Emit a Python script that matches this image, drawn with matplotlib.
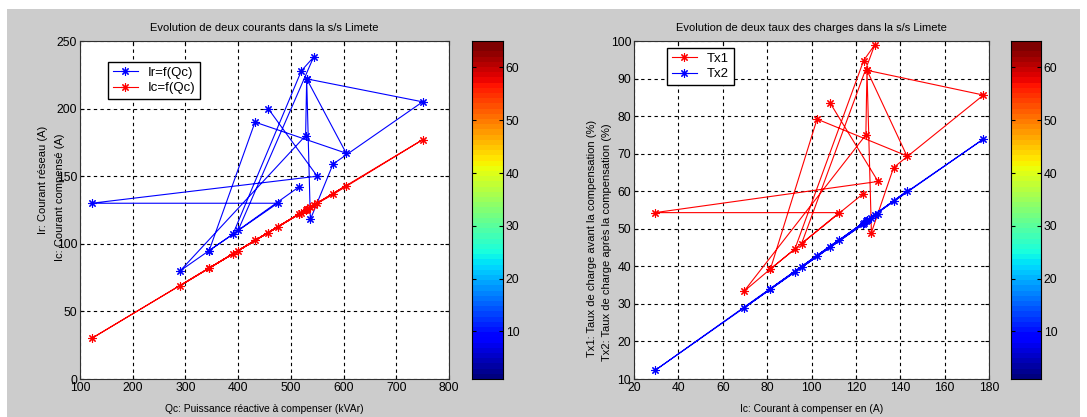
import numpy as np
import matplotlib.pyplot as plt
from matplotlib.patches import Rectangle

plt.rcParams['font.family'] = ['Liberation Sans', 'DejaVu Sans']
plt.rcParams['font.size'] = 8

# mesures dans l'ordre chronologique
qc = [457, 550, 122, 475, 345, 432, 605, 530, 750, 580, 537, 530, 528, 290, 345, 390, 520, 543, 400, 515]
ir = [200, 150, 130, 130, 95, 190, 167, 222, 205, 159, 118, 222, 180, 80, 95, 107, 228, 238, 110, 142]
ic_qc = [108, 130, 30, 112.5, 82, 102.5, 143, 125.5, 177, 136.5, 127, 125.5, 125, 69, 82, 92.5, 123, 128.5, 95, 122]

ic = [108.5, 130, 29.5, 112.5, 81.5, 102.5, 143, 125, 177.5, 137, 127, 125, 124.5, 69.5, 81.5, 92.5, 123.5, 128.5, 95.5, 123]
tx1 = [83.4, 62.6, 54.3, 54.3, 39.3, 79.2, 69.4, 92.2, 85.6, 66.3, 49.0, 92.2, 75.0, 33.3, 39.3, 44.6, 94.8, 99.0, 46.0, 59.2]
tx2 = [45.1, 54.0, 12.3, 47.1, 34.0, 42.7, 60.0, 52.3, 73.9, 57.4, 53.0, 52.3, 52.1, 28.9, 34.0, 38.6, 51.6, 53.6, 39.7, 51.3]

W, H = 1087, 417
fig = plt.figure(figsize=(W / 100, H / 100), dpi=100, facecolor='white')
fig.patches.append(Rectangle((7 / W, 0), 1 - 14 / W, 1 - 9 / H, transform=fig.transFigure,
                             facecolor='#cccccc', edgecolor='none', zorder=-1))

star = (8, 2, 0)  # asterisque façon matlab
TICK = 8.7


def box(x0, y0, x1, y1):
    return [x0 / W, 1 - y1 / H, (x1 - x0) / W, (y1 - y0) / H]


def style(ax):
    ax.set_facecolor('white')
    ax.grid(True, color='black', linestyle=(0, (3, 3)), linewidth=0.8)
    ax.tick_params(direction='in', top=True, right=True, length=3, labelsize=TICK, pad=2)
    for s in ax.spines.values():
        s.set_color('#303030')


def colorbar(rect):
    cax = fig.add_axes(box(*rect))
    grad = np.linspace(1, 65, 65).reshape(-1, 1)
    cax.imshow(grad, aspect='auto', cmap=plt.get_cmap('jet', 64), origin='lower',
               extent=[0, 1, 1, 65])
    cax.set_xticks([])
    cax.yaxis.tick_right()
    cax.set_yticks([10, 20, 30, 40, 50, 60])
    cax.tick_params(direction='in', length=3, left=True, right=True, labelsize=TICK, pad=2)
    cax.set_ylim(1, 65)


def ylab(x, y, s):
    fig.text(x / W, 1 - y / H, s, rotation=90, ha='center', va='center', fontsize=8)


# courants
ax1 = fig.add_axes(box(80, 41, 449, 379))
ax1.plot(qc, ir, '-', color='blue', lw=0.8, marker=star, ms=6, mew=0.8, label='Ir=f(Qc)')
ax1.plot(qc, ic_qc, '-', color='red', lw=0.8, marker=star, ms=6, mew=0.8, label='Ic=f(Qc)')
ax1.set_xlim(100, 800)
ax1.set_ylim(0, 250)
style(ax1)
ax1.set_title('Evolution de deux courants dans la s/s Limete', fontsize=8, pad=7)
ax1.set_xlabel('Qc: Puissance réactive à compenser (kVAr)', fontsize=7.4, labelpad=7)
ylab(43, 180, 'Ir: Courant réseau (A)')
ylab(60, 197, 'Ic: Courant compensé (A)')
ax1.legend(loc='upper left', bbox_to_anchor=(28 / 369, (379 - 62) / 338), borderaxespad=0,
           fancybox=False, edgecolor='black', framealpha=1, borderpad=0.35,
           handlelength=1.9, labelspacing=0.25, fontsize=9.5)
colorbar((472, 41, 503, 379))

# taux de charge
ax2 = fig.add_axes(box(634, 41, 989, 379))
ax2.plot(ic, tx1, '-', color='red', lw=0.8, marker=star, ms=6, mew=0.8, label='Tx1')
ax2.plot(ic, tx2, '-', color='blue', lw=0.8, marker=star, ms=6, mew=0.8, label='Tx2')
ax2.set_xlim(20, 180)
ax2.set_ylim(10, 100)
style(ax2)
ax2.set_title('Evolution de deux taux des charges dans la s/s Limete', fontsize=8, pad=7)
ax2.set_xlabel('Ic: Courant à compenser en (A)', fontsize=7.4, labelpad=7)
ylab(592, 238, 'Tx1: Taux de charge avant la compensation (%)')
ylab(607, 242, 'Tx2: Taux de charge après la compensation (%)')
ax2.legend(loc='upper left', bbox_to_anchor=(33 / 355, (379 - 48) / 338), borderaxespad=0,
           fancybox=False, edgecolor='black', framealpha=1, borderpad=0.35,
           handlelength=1.9, labelspacing=0.25, fontsize=9.5)
colorbar((1011, 41, 1041, 379))

fig.savefig('out.png', dpi=100, facecolor=fig.get_facecolor())
